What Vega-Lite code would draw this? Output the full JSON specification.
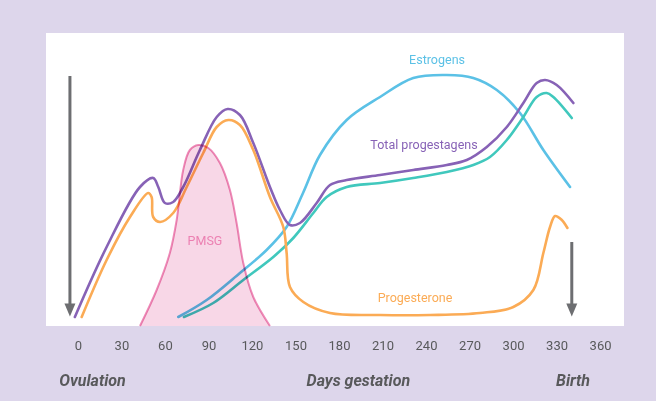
{
  "$schema": "https://vega.github.io/schema/vega-lite/v6.json",
  "width": 578,
  "height": 293,
  "autosize": {"type": "none"},
  "padding": {"left": 46, "top": 33, "right": 32, "bottom": 75},
  "background": "#ddd6eb",
  "config": {
    "view": {"fill": "white", "stroke": null},
    "font": "Roboto, sans-serif"
  },
  "resolve": {"axis": {"x": "independent", "y": "independent"}},
  "datasets": {
    "curves": [
      {"series": "Estrogens", "day": 69.2, "value": 9},
      {"series": "Estrogens", "day": 88.8, "value": 26},
      {"series": "Estrogens", "day": 111.7, "value": 53},
      {"series": "Estrogens", "day": 130.1, "value": 76},
      {"series": "Estrogens", "day": 143.9, "value": 99},
      {"series": "Estrogens", "day": 155.2, "value": 133},
      {"series": "Estrogens", "day": 166.9, "value": 171},
      {"series": "Estrogens", "day": 185.3, "value": 206},
      {"series": "Estrogens", "day": 208.3, "value": 229},
      {"series": "Estrogens", "day": 231.2, "value": 248},
      {"series": "Estrogens", "day": 254.3, "value": 251},
      {"series": "Estrogens", "day": 272.6, "value": 248},
      {"series": "Estrogens", "day": 288.8, "value": 236},
      {"series": "Estrogens", "day": 304.8, "value": 213},
      {"series": "Estrogens", "day": 320.9, "value": 176},
      {"series": "Estrogens", "day": 339.3, "value": 139},

      {"series": "Progestagens 2", "day": 73.1, "value": 9},
      {"series": "Progestagens 2", "day": 93.3, "value": 23},
      {"series": "Progestagens 2", "day": 114, "value": 46},
      {"series": "Progestagens 2", "day": 134.7, "value": 69},
      {"series": "Progestagens 2", "day": 148.5, "value": 88},
      {"series": "Progestagens 2", "day": 162.3, "value": 113},
      {"series": "Progestagens 2", "day": 171.5, "value": 129},
      {"series": "Progestagens 2", "day": 185.3, "value": 139},
      {"series": "Progestagens 2", "day": 208.3, "value": 143},
      {"series": "Progestagens 2", "day": 231.2, "value": 148},
      {"series": "Progestagens 2", "day": 254.3, "value": 154},
      {"series": "Progestagens 2", "day": 272.6, "value": 161},
      {"series": "Progestagens 2", "day": 284.1, "value": 169},
      {"series": "Progestagens 2", "day": 295.7, "value": 186},
      {"series": "Progestagens 2", "day": 307.1, "value": 209},
      {"series": "Progestagens 2", "day": 316.3, "value": 229},
      {"series": "Progestagens 2", "day": 323.2, "value": 233},
      {"series": "Progestagens 2", "day": 327.8, "value": 229},
      {"series": "Progestagens 2", "day": 340.5, "value": 208},

      {"series": "Total progestagens", "day": -2.1, "value": 9},
      {"series": "Total progestagens", "day": 19.8, "value": 79},
      {"series": "Total progestagens", "day": 42.8, "value": 139},
      {"series": "Total progestagens", "day": 51.9, "value": 148},
      {"series": "Total progestagens", "day": 55.4, "value": 139},
      {"series": "Total progestagens", "day": 60, "value": 123},
      {"series": "Total progestagens", "day": 65.7, "value": 124},
      {"series": "Total progestagens", "day": 72.6, "value": 139},
      {"series": "Total progestagens", "day": 84.1, "value": 176},
      {"series": "Total progestagens", "day": 95.7, "value": 209},
      {"series": "Total progestagens", "day": 103.2, "value": 217},
      {"series": "Total progestagens", "day": 111.7, "value": 211},
      {"series": "Total progestagens", "day": 120.9, "value": 183},
      {"series": "Total progestagens", "day": 132.4, "value": 139},
      {"series": "Total progestagens", "day": 139.3, "value": 116},
      {"series": "Total progestagens", "day": 146.2, "value": 101},
      {"series": "Total progestagens", "day": 153.1, "value": 103},
      {"series": "Total progestagens", "day": 164.6, "value": 123},
      {"series": "Total progestagens", "day": 173.8, "value": 141},
      {"series": "Total progestagens", "day": 185.3, "value": 146},
      {"series": "Total progestagens", "day": 208.3, "value": 151},
      {"series": "Total progestagens", "day": 231.2, "value": 156},
      {"series": "Total progestagens", "day": 254.3, "value": 161},
      {"series": "Total progestagens", "day": 268.1, "value": 166},
      {"series": "Total progestagens", "day": 281.9, "value": 179},
      {"series": "Total progestagens", "day": 295.7, "value": 199},
      {"series": "Total progestagens", "day": 307.1, "value": 223},
      {"series": "Total progestagens", "day": 316.3, "value": 243},
      {"series": "Total progestagens", "day": 322.1, "value": 246},
      {"series": "Total progestagens", "day": 330.1, "value": 241},
      {"series": "Total progestagens", "day": 341.6, "value": 223},

      {"series": "Progesterone", "day": 2.6, "value": 9},
      {"series": "Progesterone", "day": 19.8, "value": 66},
      {"series": "Progesterone", "day": 35.9, "value": 109},
      {"series": "Progesterone", "day": 48.5, "value": 133},
      {"series": "Progesterone", "day": 50.8, "value": 129},
      {"series": "Progesterone", "day": 51.9, "value": 109},
      {"series": "Progesterone", "day": 56.6, "value": 104},
      {"series": "Progesterone", "day": 65.7, "value": 113},
      {"series": "Progesterone", "day": 75, "value": 139},
      {"series": "Progesterone", "day": 86.4, "value": 173},
      {"series": "Progesterone", "day": 95.7, "value": 199},
      {"series": "Progesterone", "day": 103.7, "value": 206},
      {"series": "Progesterone", "day": 111.7, "value": 201},
      {"series": "Progesterone", "day": 120.9, "value": 176},
      {"series": "Progesterone", "day": 132.4, "value": 129},
      {"series": "Progesterone", "day": 141.6, "value": 99},
      {"series": "Progesterone", "day": 143.9, "value": 73},
      {"series": "Progesterone", "day": 146.2, "value": 39},
      {"series": "Progesterone", "day": 155.4, "value": 24},
      {"series": "Progesterone", "day": 173.8, "value": 13},
      {"series": "Progesterone", "day": 208.3, "value": 11},
      {"series": "Progesterone", "day": 242.8, "value": 11},
      {"series": "Progesterone", "day": 277.2, "value": 13},
      {"series": "Progesterone", "day": 300.2, "value": 19},
      {"series": "Progesterone", "day": 314, "value": 36},
      {"series": "Progesterone", "day": 320.9, "value": 73},
      {"series": "Progesterone", "day": 325.5, "value": 99},
      {"series": "Progesterone", "day": 329, "value": 110},
      {"series": "Progesterone", "day": 333.6, "value": 106},
      {"series": "Progesterone", "day": 337.5, "value": 98}
    ],
    "pmsg": [
      {"day": 42.8, "value": 0},
      {"day": 54.3, "value": 36},
      {"day": 63.4, "value": 73},
      {"day": 68.1, "value": 106},
      {"day": 72.6, "value": 156},
      {"day": 77.2, "value": 176},
      {"day": 83, "value": 181},
      {"day": 89.9, "value": 178},
      {"day": 97.9, "value": 163},
      {"day": 104.8, "value": 136},
      {"day": 109.4, "value": 103},
      {"day": 114, "value": 63},
      {"day": 120.9, "value": 29},
      {"day": 132.4, "value": 0}
    ],
    "labels": [
      {"label": "Estrogens", "series": "Estrogens", "day": 247.6, "value": 266},
      {"label": "Total progestagens", "series": "Total progestagens", "day": 238.6, "value": 181},
      {"label": "Progesterone", "series": "Progesterone", "day": 232.4, "value": 28},
      {"label": "PMSG", "series": "PMSG", "day": 87.6, "value": 85}
    ],
    "arrows": [
      {"event": "Ovulation", "day": -5.5, "top": 250, "bottom": 22, "head": 16},
      {"event": "Birth", "day": 340.5, "top": 84, "bottom": 22, "head": 16}
    ]
  },
  "layer": [
    {
      "data": {"name": "curves"},
      "mark": {"type": "line", "interpolate": "catmull-rom", "strokeWidth": 2.6, "strokeCap": "round"},
      "encoding": {
        "x": {
          "field": "day", "type": "quantitative",
          "scale": {"domain": [-22, 376.5], "nice": false, "zero": false},
          "axis": {
            "orient": "bottom", "values": [0, 30, 60, 90, 120, 150, 180, 210, 240, 270, 300, 330, 360],
            "grid": false, "domain": false, "ticks": false, "title": null,
            "labelFontSize": 13, "labelColor": "#58595b", "labelBaseline": "middle",
            "labelPadding": 19, "labelFlush": false, "labelOverlap": false
          }
        },
        "y": {
          "field": "value", "type": "quantitative",
          "scale": {"domain": [0, 293], "nice": false, "zero": false},
          "axis": null
        },
        "color": {
          "field": "series", "type": "nominal",
          "scale": {
            "domain": ["Estrogens", "Progestagens 2", "Total progestagens", "Progesterone", "PMSG"],
            "range": ["#5bc1e6", "#40c8bd", "#8762b6", "#fbab55", "#ec80b2"]
          },
          "legend": null
        }
      }
    },
    {
      "data": {"name": "pmsg"},
      "mark": {
        "type": "area", "interpolate": "catmull-rom", "color": "#f5c6dd", "blend": "multiply",
        "line": {"color": "#ee8dba", "strokeWidth": 2, "blend": "multiply"}
      },
      "encoding": {
        "x": {"field": "day", "type": "quantitative", "axis": null},
        "y": {"field": "value", "type": "quantitative", "axis": null}
      }
    },
    {
      "data": {"name": "labels"},
      "mark": {"type": "text", "fontSize": 12.5},
      "encoding": {
        "x": {"field": "day", "type": "quantitative", "axis": null},
        "y": {"field": "value", "type": "quantitative", "axis": null},
        "text": {"field": "label"},
        "color": {"field": "series", "type": "nominal", "legend": null}
      }
    },
    {
      "data": {"name": "arrows"},
      "mark": {"type": "rule", "strokeWidth": 3, "color": "#6d6e71"},
      "encoding": {
        "x": {
          "field": "day", "type": "quantitative",
          "axis": {
            "orient": "bottom", "values": [9.7, 193, 341],
            "labelExpr": "datum.value < 100 ? 'Ovulation' : datum.value < 300 ? 'Days gestation' : 'Birth'",
            "grid": false, "domain": false, "ticks": false, "title": null,
            "labelFontSize": 16, "labelFontWeight": "bold", "labelFontStyle": "italic",
            "labelColor": "#58595b", "labelBaseline": "middle", "labelPadding": 54,
            "labelFlush": false, "labelOverlap": false
          }
        },
        "y": {"field": "top", "type": "quantitative", "axis": null},
        "y2": {"field": "bottom"}
      }
    },
    {
      "data": {"name": "arrows"},
      "mark": {"type": "point", "shape": "M-1,-1.2L1,-1.2L0,1.2Z", "size": 121, "filled": true, "color": "#6d6e71", "opacity": 1},
      "encoding": {
        "x": {"field": "day", "type": "quantitative", "axis": null},
        "y": {"field": "head", "type": "quantitative", "axis": null}
      }
    }
  ]
}
